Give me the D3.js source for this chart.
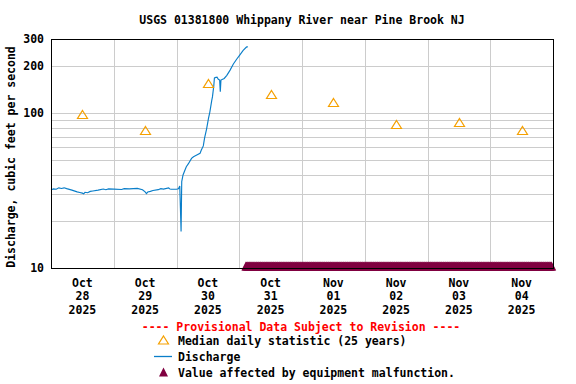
<!DOCTYPE html>
<html>
<head>
<meta charset="utf-8">
<script src="https://cdn.jsdelivr.net/npm/d3@7"></script>
<style>
html, body { margin: 0; padding: 0; background: #fff; }
svg { display: block; }
text { font-family: "DejaVu Sans Mono", monospace; font-weight: bold; }
</style>
</head>
<body>
<div id="chart"></div>
<script>
const title = "USGS 01381800 Whippany River near Pine Brook NJ";
const yLabel = "Discharge, cubic feet per second";
const provisional = "---- Provisional Data Subject to Revision ----";
const legendLabels = ["Median daily statistic (25 years)", "Discharge", "Value affected by equipment malfunction."];

const xDomain = ["2025-10-28T00:00", "2025-11-05T00:00"];
const dayTicks = ["2025-10-28", "2025-10-29", "2025-10-30", "2025-10-31", "2025-11-01", "2025-11-02", "2025-11-03", "2025-11-04"];
const tickMonths = ["Oct", "Oct", "Oct", "Oct", "Nov", "Nov", "Nov", "Nov"];
const tickDays = ["28", "29", "30", "31", "01", "02", "03", "04"];
const tickYears = ["2025", "2025", "2025", "2025", "2025", "2025", "2025", "2025"];

const yTickValues = [10, 100, 200, 300];
const yGridValues = [20, 30, 40, 50, 60, 70, 80, 90, 100, 200];

const medianDates = ["2025-10-28T12:00", "2025-10-29T12:00", "2025-10-30T12:00", "2025-10-31T12:00", "2025-11-01T12:00", "2025-11-02T12:00", "2025-11-03T12:00", "2025-11-04T12:00"];
const medianValues = [98.5, 77.7, 156, 133, 118, 85, 87.5, 77.7];

const dischargeTimes = [
  "2025-10-28T00:00", "2025-10-28T01:00", "2025-10-28T02:00", "2025-10-28T03:00", "2025-10-28T04:00", "2025-10-28T05:00", "2025-10-28T06:00", "2025-10-28T08:00",
  "2025-10-28T10:00", "2025-10-28T11:00", "2025-10-28T12:00", "2025-10-28T12:30", "2025-10-28T13:00", "2025-10-28T14:00", "2025-10-28T15:00",
  "2025-10-28T16:00", "2025-10-28T18:00", "2025-10-28T20:00", "2025-10-28T21:00", "2025-10-28T22:00", "2025-10-29T00:00", "2025-10-29T03:00",
  "2025-10-29T04:00", "2025-10-29T06:00", "2025-10-29T09:00", "2025-10-29T11:00", "2025-10-29T12:00", "2025-10-29T12:30", "2025-10-29T13:00",
  "2025-10-29T14:00", "2025-10-29T15:00", "2025-10-29T17:00", "2025-10-29T18:00", "2025-10-29T19:00", "2025-10-29T21:00", "2025-10-29T21:30",
  "2025-10-29T22:00", "2025-10-30T00:00", "2025-10-30T00:45", "2025-10-30T01:15", "2025-10-30T01:30",
  "2025-10-30T01:45", "2025-10-30T02:00", "2025-10-30T02:30", "2025-10-30T03:15", "2025-10-30T03:45",
  "2025-10-30T04:30", "2025-10-30T05:45", "2025-10-30T06:30", "2025-10-30T07:45", "2025-10-30T09:00",
  "2025-10-30T09:30", "2025-10-30T10:15", "2025-10-30T10:45", "2025-10-30T11:30", "2025-10-30T12:15",
  "2025-10-30T12:45", "2025-10-30T13:30", "2025-10-30T13:45", "2025-10-30T14:15", "2025-10-30T14:30",
  "2025-10-30T14:45", "2025-10-30T15:30", "2025-10-30T16:00", "2025-10-30T16:30", "2025-10-30T16:45",
  "2025-10-30T17:00", "2025-10-30T18:15", "2025-10-30T19:15", "2025-10-30T20:30", "2025-10-30T21:45",
  "2025-10-30T23:00", "2025-10-31T00:15", "2025-10-31T01:30", "2025-10-31T02:45", "2025-10-31T03:15"
];
const dischargeValues = [
  32.0, 32.4, 32.2, 32.9, 32.6, 32.9, 32.5, 31.8,
  31.0, 30.7, 30.4, 30.1, 30.8, 30.6, 31.2,
  31.4, 31.8, 32.3, 32.0, 32.4, 32.3, 32.1,
  32.5, 32.4, 32.6, 32.0, 31.0, 30.2, 30.9,
  31.2, 31.6, 32.0, 32.5, 32.3, 32.9, 32.3,
  32.2, 32.2, 32.4, 33.8, 24.4,
  17.2, 36.1, 39.8, 42.9, 45.0,
  46.9, 50.9, 52.2, 53.5, 54.9,
  57.7, 61.3, 69.0, 78.7, 92.6,
  101.4, 121, 127, 149, 168,
  169, 170, 165, 163, 137,
  163, 167, 175, 189, 207,
  222, 237, 253, 266, 268
];

const malfunctionStart = "2025-10-31T02:30";
const malfunctionEnd = "2025-11-04T23:30";

const W = 576, H = 384;
const margin = { left: 51, right: 23, top: 39, bottom: 116 };
const plotW = W - margin.left - margin.right; // 502
const plotH = H - margin.top - margin.bottom; // 229

const parse = d3.utcParse("%Y-%m-%dT%H:%M");
const parseDay = d3.utcParse("%Y-%m-%d");

const x = d3.scaleUtc().domain(xDomain.map(parse)).range([margin.left, margin.left + plotW]);
const y = d3.scaleLog().domain([10, 300]).range([margin.top + plotH, margin.top]);

const svg = d3.select("#chart").append("svg").attr("width", W).attr("height", H);

const cGrid = "#cccccc";
const cBlue = "#0a7ec9";
const cOrange = "#f5a000";
const cMaroon = "#800040";
const fs = "11.5px";

// grid
const g = svg.append("g").attr("shape-rendering", "crispEdges");
g.selectAll("line.hg").data(yGridValues).join("line")
  .attr("x1", margin.left).attr("x2", margin.left + plotW)
  .attr("y1", d => Math.round(y(d)) + 0.5).attr("y2", d => Math.round(y(d)) + 0.5)
  .attr("stroke", cGrid).attr("stroke-width", 1);
const dayBounds = dayTicks.slice(1).map(parseDay);
g.selectAll("line.vg").data(dayBounds).join("line")
  .attr("x1", d => Math.round(x(d)) + 0.5).attr("x2", d => Math.round(x(d)) + 0.5)
  .attr("y1", margin.top).attr("y2", margin.top + plotH)
  .attr("stroke", cGrid).attr("stroke-width", 1);

// discharge line
const dischargeData = dischargeTimes.map((t, i) => ({ t: parse(t), v: dischargeValues[i] }));
svg.append("path")
  .datum(dischargeData)
  .attr("fill", "none").attr("stroke", cBlue).attr("stroke-width", 1.15)
  .attr("d", d3.line().x(d => x(d.t)).y(d => y(d.v)));

// median triangles
const tri = (cx, cy, w, h) => `M${cx},${cy - h / 2}L${cx + w / 2},${cy + h / 2}L${cx - w / 2},${cy + h / 2}Z`;
svg.append("g").selectAll("path").data(medianDates.map((d, i) => ({ t: parse(d), v: medianValues[i] })))
  .join("path")
  .attr("d", d => tri(Math.round(x(d.t)) + 0.5, Math.round(y(d.v)) + 0.5, 10, 8))
  .attr("fill", "none").attr("stroke", cOrange).attr("stroke-width", 1.2);

// malfunction triangles
const malTimes = d3.utcMinute.every(15).range(parse(malfunctionStart), d3.utcMinute.offset(parse(malfunctionEnd), 1));
const baseY = margin.top + plotH + 2.5;
svg.append("g").selectAll("path").data(malTimes).join("path")
  .attr("d", d => `M${x(d)},${baseY - 9}L${x(d) + 4.5},${baseY}L${x(d) - 4.5},${baseY}Z`)
  .attr("fill", cMaroon);

// frame
svg.append("rect")
  .attr("x", margin.left + 0.5).attr("y", margin.top + 0.5)
  .attr("width", plotW).attr("height", plotH)
  .attr("fill", "none").attr("stroke", "#000").attr("stroke-width", 1)
  .attr("shape-rendering", "crispEdges");

// y tick labels
svg.append("g").selectAll("text").data(yTickValues).join("text")
  .attr("x", 44).attr("y", d => y(d) + 4)
  .attr("text-anchor", "end").attr("font-size", fs).attr("fill", "#000")
  .text(d => d);

// x tick labels
const xt = svg.append("g").selectAll("g").data(dayTicks).join("g")
  .attr("transform", d => `translate(${x(d3.utcHour.offset(parseDay(d), 12))},0)`);
xt.append("text").attr("y", 287).attr("text-anchor", "middle").attr("font-size", fs).text((d, i) => tickMonths[i]);
xt.append("text").attr("y", 300).attr("text-anchor", "middle").attr("font-size", fs).text((d, i) => tickDays[i]);
xt.append("text").attr("y", 314).attr("text-anchor", "middle").attr("font-size", fs).text((d, i) => tickYears[i]);

// title
svg.append("text").attr("x", 302).attr("y", 24).attr("text-anchor", "middle")
  .attr("font-size", fs).text(title);

// y label
svg.append("text").attr("transform", "translate(15,157) rotate(-90)")
  .attr("text-anchor", "middle").attr("font-size", fs).text(yLabel);

// provisional
svg.append("text").attr("x", 301).attr("y", 331).attr("text-anchor", "middle")
  .attr("font-size", fs).attr("fill", "#ff0000").text(provisional);

// legend
const lg = svg.append("g");
lg.append("path").attr("d", tri(163.5, 340, 10, 8)).attr("fill", "none").attr("stroke", cOrange).attr("stroke-width", 1.2);
lg.append("line").attr("x1", 154).attr("x2", 172).attr("y1", 356.5).attr("y2", 356.5).attr("stroke", cBlue).attr("stroke-width", 1.3);
lg.append("path").attr("d", tri(163.5, 372, 9, 9)).attr("fill", cMaroon);
lg.selectAll("text").data(legendLabels).join("text")
  .attr("x", 178).attr("y", (d, i) => 345 + i * 15.8)
  .attr("font-size", fs).text(d => d);
</script>
</body>
</html>
